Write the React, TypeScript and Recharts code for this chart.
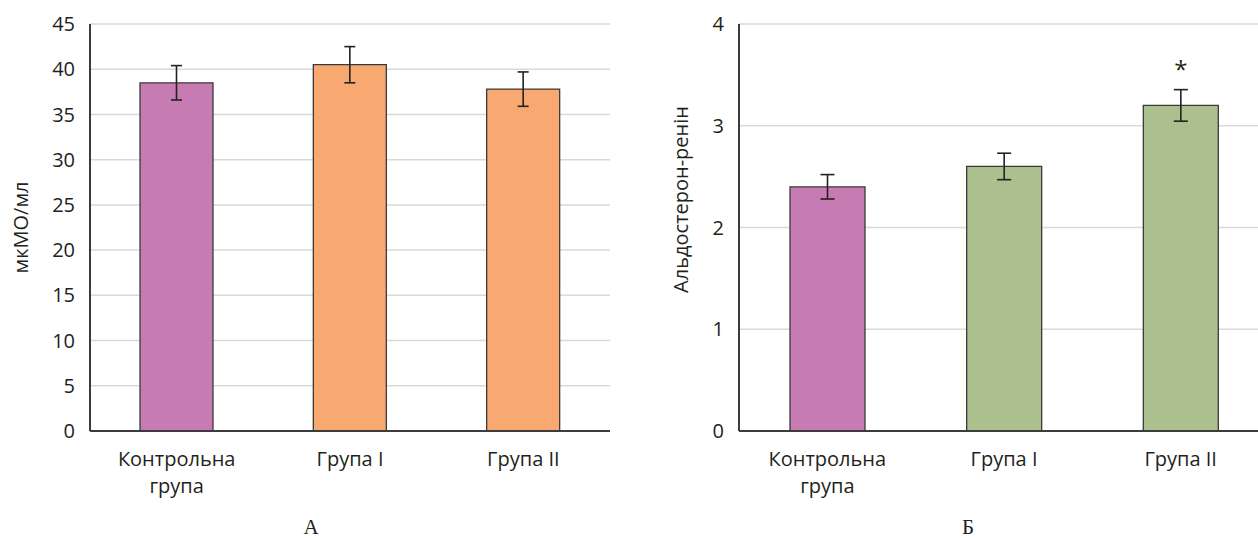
import React from "react";
import {
  BarChart,
  Bar,
  XAxis,
  YAxis,
  CartesianGrid,
  ErrorBar,
  Cell,
  LabelList,
} from "recharts";

const categories = ["Контрольна\nгрупа", "Група I", "Група II"];

// panel А: мкМО/мл
const leftValues = [38.5, 40.5, 37.8];
const leftErrors = [1.9, 2.0, 1.9];
const leftColors = ["#c77bb3", "#f8a971", "#f8a971"];
const leftTicks = [0, 5, 10, 15, 20, 25, 30, 35, 40, 45];

// panel Б: альдостерон-ренін
const rightValues = [2.4, 2.6, 3.2];
const rightErrors = [0.12, 0.13, 0.155];
const rightColors = ["#c77bb3", "#abbf8f", "#abbf8f"];
const rightMarks = ["", "", "*"];
const rightTicks = [0, 1, 2, 3, 4];

const FONT = "'Open Sans', sans-serif";
const TEXT = "#231f20";
const AXIS = "#3c3c3c";

const leftData = categories.map((name, i) => ({
  name,
  value: leftValues[i],
  err: leftErrors[i],
}));

const rightData = categories.map((name, i) => ({
  name,
  value: rightValues[i],
  err: rightErrors[i],
  mark: rightMarks[i],
}));

function CategoryTick(props: any) {
  const { x, y, payload } = props;
  const lines = String(payload.value).split("\n");
  return (
    <g transform={`translate(${x},${y})`}>
      <text textAnchor="middle" fill={TEXT} fontSize={20} fontFamily={FONT}>
        {lines.map((l, i) => (
          <tspan key={i} x={0} dy={i === 0 ? 29 : 27}>
            {l}
          </tspan>
        ))}
      </text>
    </g>
  );
}

const yLabel = (text: string, dx: number, dy: number) => (props: any) => {
  const vb = props.viewBox || { x: 0, y: 0, width: 0, height: 0 };
  const cx = vb.x + dx;
  const cy = vb.y + vb.height / 2 + dy;
  return (
    <text
      x={cx}
      y={cy}
      transform={`rotate(-90 ${cx} ${cy})`}
      textAnchor="middle"
      dominantBaseline="central"
      fill={TEXT}
      fontSize={20}
      fontFamily={FONT}
    >
      {text}
    </text>
  );
};

const renderStar = (props: any) => {
  const { x, y, width, value } = props;
  if (!value) return null;
  return (
    <text
      x={Number(x) + Number(width) / 2}
      y={Number(y) - 27}
      textAnchor="middle"
      fill={TEXT}
      fontSize={24}
      fontFamily={FONT}
    >
      {value}
    </text>
  );
};

const tickStyle = { fill: TEXT, fontSize: 20, fontFamily: FONT };

function Panel({
  data,
  colors,
  ticks,
  max,
  width,
  yWidth,
  barSize,
  errWidth,
  yTitle,
  titleDx,
  titleDy,
  showMarks,
}: any) {
  return (
    <BarChart
      width={width}
      height={538}
      data={data}
      margin={{ top: 24, right: 10, bottom: 0, left: 0 }}
    >
      <CartesianGrid vertical={false} stroke="#d9d9d9" strokeWidth={1.5} />
      <XAxis
        dataKey="name"
        height={107}
        tickLine={false}
        tickSize={0}
        tickMargin={6}
        axisLine={{ stroke: AXIS, strokeWidth: 2 }}
        tick={<CategoryTick />}
        interval={0}
      />
      <XAxis
        xAxisId="top"
        dataKey="name"
        orientation="top"
        height={0}
        tick={false}
        tickLine={false}
        axisLine={{ stroke: AXIS, strokeWidth: 2 }}
      />
      <YAxis
        width={yWidth}
        domain={[0, max]}
        ticks={ticks}
        tickLine={false}
        tickSize={0}
        tickMargin={15}
        axisLine={{ stroke: AXIS, strokeWidth: 2 }}
        tick={tickStyle}
        label={{ content: yLabel(yTitle, titleDx, titleDy) }}
      />
      <YAxis
        yAxisId="right"
        orientation="right"
        width={0}
        domain={[0, max]}
        ticks={ticks}
        tick={false}
        tickLine={false}
        axisLine={{ stroke: AXIS, strokeWidth: 2 }}
      />
      <Bar
        dataKey="value"
        barSize={barSize}
        stroke="#3a3a3a"
        strokeWidth={1.3}
        isAnimationActive={false}
      >
        {data.map((_: any, i: number) => (
          <Cell key={i} fill={colors[i]} />
        ))}
        <ErrorBar
          dataKey="err"
          width={errWidth}
          stroke="#222"
          strokeWidth={1.6}
          direction="y"
        />
        {showMarks && <LabelList dataKey="mark" content={renderStar} />}
      </Bar>
    </BarChart>
  );
}

const captionStyle: React.CSSProperties = {
  position: "absolute",
  top: 517,
  lineHeight: "20px",
  fontFamily: "'Liberation Serif', serif",
  fontSize: 21,
  color: TEXT,
  transform: "translateX(-50%)",
};

export default function App() {
  return (
    <div
      style={{
        position: "absolute",
        left: 0,
        top: 0,
        width: 1258,
        height: 538,
        overflow: "hidden",
        background: "#fff",
      }}
    >
      <div style={{ position: "absolute", left: 0, top: 0 }}>
        <Panel
          data={leftData}
          colors={leftColors}
          ticks={leftTicks}
          max={45}
          width={620}
          yWidth={90}
          barSize={73}
          errWidth={5.5}
          yTitle="мкМО/мл"
          titleDx={20}
          titleDy={0}
          showMarks={false}
        />
      </div>
      <div style={{ position: "absolute", left: 630, top: 0 }}>
        <Panel
          data={rightData}
          colors={rightColors}
          ticks={rightTicks}
          max={4}
          width={649}
          yWidth={109}
          barSize={75}
          errWidth={7}
          yTitle="Альдостерон-ренін"
          titleDx={50}
          titleDy={-28}
          showMarks={true}
        />
      </div>
      <div style={{ ...captionStyle, left: 311 }}>А</div>
      <div style={{ ...captionStyle, left: 968 }}>Б</div>
    </div>
  );
}
